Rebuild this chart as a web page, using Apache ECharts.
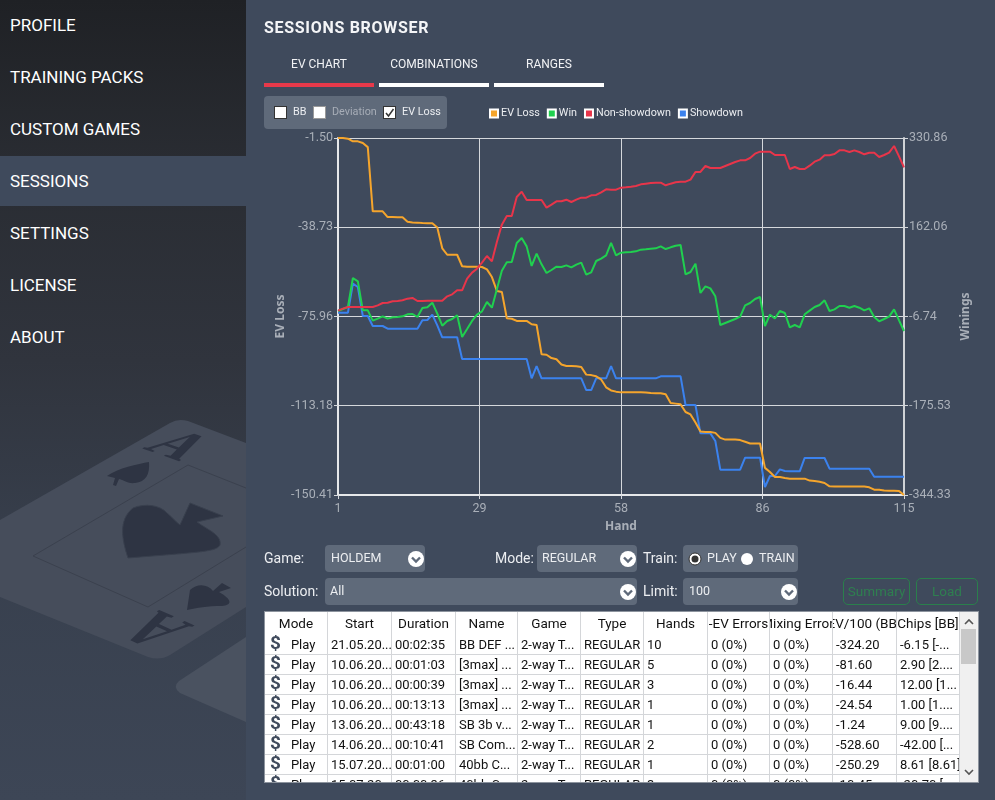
<!DOCTYPE html>
<html>
<head>
<meta charset="utf-8">
<title>Sessions browser</title>
<script src="https://cdn.jsdelivr.net/npm/echarts@6/dist/echarts.min.js"></script>
<style>
html,body{margin:0;padding:0;width:995px;height:800px;overflow:hidden;background:#3f4a5c;font-family:Roboto,"Noto Sans",sans-serif;color:#fff}
#chart{position:absolute;left:0;top:0;width:995px;height:800px}
.abs{position:absolute;white-space:nowrap}
#side{position:absolute;left:0;top:0;width:246px;height:800px;overflow:hidden}
.nav{position:absolute;left:10px;font-size:17px;line-height:24px;color:#fff}
.active{position:absolute;left:0;top:156px;width:246px;height:50px;background:#3f4a5c}
.tab{position:absolute;top:55px;width:110px;text-align:center;font-size:12px;line-height:18px;color:#f2f3f5}
.line{position:absolute;top:83px;width:110px;height:4px;background:#fff}
.panel{position:absolute;background:#5f6a7a;border-radius:4px}
.lab{position:absolute;font-size:14px;line-height:18px;color:#eceef1}
.val{position:absolute;font-size:12.5px;line-height:18px;color:#eceef1}
.small{font-size:10.8px}
.box{position:absolute;width:11px;height:11px;background:#fff;border:1px solid #333}
.chev{position:absolute;width:16px;height:16px}
.btn{position:absolute;top:578px;height:25px;border:1px solid #2a7f4c;border-radius:5px;color:#2f7f50;font-size:13.5px;line-height:25px;text-align:center}
#table{position:absolute;left:264px;top:611px;width:713px;height:170px;background:#fff;border:1px solid #8d949e;overflow:hidden;color:#111;font-size:13px}
.cell{position:absolute;height:20px;line-height:19px;overflow:hidden;white-space:nowrap;box-sizing:border-box;border-right:1px solid #d4d6d9;border-bottom:1px solid #d4d6d9;padding-left:3px}
.head{display:flex;justify-content:center;padding-left:0;height:23px;line-height:23px;border-bottom:none;font-size:13.5px}
.head span{flex:none}
</style>
</head>
<body>
<div id="side">
  <svg width="246" height="800" style="position:absolute;left:0;top:0">
    <defs>
      <linearGradient id="bg" x1="0" y1="0" x2="0" y2="1">
        <stop offset="0" stop-color="#1f2125"/>
        <stop offset="0.2" stop-color="#292c32"/>
        <stop offset="0.45" stop-color="#30343d"/>
        <stop offset="0.7" stop-color="#38404e"/>
        <stop offset="1" stop-color="#3d4656"/>
      </linearGradient>
    </defs>
    <rect width="246" height="800" fill="url(#bg)"/>
    <path d="M0 520 L170 423 Q178 418 188 421 L246 443 L246 607 L170 655 Q160 661 148 657 L0 597 Z" fill="#464d5b"/>
    <path d="M246 637 L179 681 Q172 687 180 693 L246 722 Z" fill="#4a5260"/>
    <path d="M33 556 L188 465 L246 488 M33 556 L148 607 L246 547" fill="none" stroke="#3b414e" stroke-width="1"/>
    <path d="M128 558 C122 540 118 520 133 508 C145 503 160 505 167 513 C172 517 176 522 180 525 L190 503 L223 516 L197 522 C208 530 222 535 220 545 C216 552 200 552 128 558 Z" fill="#2e3443" stroke="#39404e" stroke-width="1"/>
    <path d="M107 476 C118 468 138 464 149 462 C150 474 146 482 135 483 C127 484 122 479 119 479 L116 486 L113 485 L115 478 Z" fill="#2e3443"/>
    <path d="M187 610 L190 590 C197 583 208 584 213 591 L222 583 L231 588 L219 592 C233 600 232 605 222 606 C207 606 197 608 187 610 Z" fill="#2e3443"/>
    <text transform="matrix(1.74 0.6 -1.88 1 141.7 448.3)" font-family="Liberation Serif" font-size="30" font-weight="bold" fill="#2e3443">A</text>
    <text transform="matrix(-1.67 -0.74 2.17 -1.22 195 625.7)" font-family="Liberation Serif" font-size="30" font-weight="bold" fill="#2e3443">A</text>
  </svg>
  <div class="active"></div>
  <div class="nav" style="top:13px">PROFILE</div>
  <div class="nav" style="top:65px">TRAINING PACKS</div>
  <div class="nav" style="top:117px">CUSTOM GAMES</div>
  <div class="nav" style="top:169px">SESSIONS</div>
  <div class="nav" style="top:221px">SETTINGS</div>
  <div class="nav" style="top:273px">LICENSE</div>
  <div class="nav" style="top:325px">ABOUT</div>
</div>

<div id="chart"></div>

<div class="abs" style="left:264px;top:17px;font-size:16px;line-height:22px;font-weight:bold;letter-spacing:.7px;color:#f4f5f7">SESSIONS BROWSER</div>
<div class="tab" style="left:264px">EV CHART</div><div class="line" style="left:264px;background:#e8394a"></div>
<div class="tab" style="left:379px">COMBINATIONS</div><div class="line" style="left:379px"></div>
<div class="tab" style="left:494px">RANGES</div><div class="line" style="left:494px"></div>

<div class="panel" style="left:264px;top:96px;width:183px;height:33px"></div>
<div class="box" style="left:274px;top:106px"></div>
<div class="val small" style="left:293px;top:103px">BB</div>
<div class="box" style="left:313px;top:106px;border-color:#999"></div>
<div class="val small" style="left:332px;top:103px;color:#a7adb7">Deviation</div>
<div class="box" style="left:383px;top:106px"></div>
<svg class="abs" style="left:383px;top:106px" width="13" height="13"><path d="M3 7 L5.5 10 L10.5 3" fill="none" stroke="#333" stroke-width="1.5"/></svg>
<div class="val small" style="left:402px;top:103px">EV Loss</div>

<div class="lab" style="left:264px;top:549px">Game:</div>
<div class="panel" style="left:325px;top:545px;width:100px;height:27px"></div>
<div class="val" style="left:331px;top:549px">HOLDEM</div>
<div class="lab" style="left:495px;top:549px">Mode:</div>
<div class="panel" style="left:537px;top:545px;width:100px;height:27px"></div>
<div class="val" style="left:542px;top:549px">REGULAR</div>
<div class="lab" style="left:643px;top:549px">Train:</div>
<div class="panel" style="left:683px;top:545px;width:115px;height:27px"></div>
<svg class="abs" style="left:687px;top:551px" width="16" height="16"><circle cx="8" cy="8" r="6" fill="#fff" stroke="#333" stroke-width="1"/><circle cx="8" cy="8" r="3.5" fill="#333"/></svg>
<div class="val" style="left:707px;top:549px">PLAY</div>
<svg class="abs" style="left:739px;top:551px" width="16" height="16"><circle cx="8" cy="8" r="6" fill="#fff"/></svg>
<div class="val" style="left:759px;top:549px">TRAIN</div>

<div class="lab" style="left:264px;top:582px">Solution:</div>
<div class="panel" style="left:325px;top:578px;width:312px;height:27px"></div>
<div class="val" style="left:330px;top:582px">All</div>
<div class="lab" style="left:643px;top:582px">Limit:</div>
<div class="panel" style="left:683px;top:578px;width:115px;height:27px"></div>
<div class="val" style="left:689px;top:582px">100</div>
<div class="btn" style="left:843px;width:65px">Summary</div>
<div class="btn" style="left:916px;width:60px">Load</div>

<div id="table"></div>

<script>
// chart values
var handTicks = [1, 29.5, 58, 86.5, 115];
var lossTicks = [-1.50, -38.73, -75.96, -113.18, -150.41];
var winTicks = [330.86, 162.06, -6.74, -175.53, -344.33];

var evLoss = [
  -1.50,-1.50,-1.8,-2.9,-2.9,-3.6,-5.3,-32.1,-32.1,-32.1,
  -34.5,-34.5,-34.6,-34.6,-36.4,-36.7,-36.8,-37.0,-37.1,-37.1,
  -38.8,-47.5,-50.2,-50.2,-50.2,-55.0,-55.2,-55.2,-55.2,-55.3,
  -56.3,-59.5,-65.3,-65.7,-76.7,-76.9,-77.8,-77.8,-77.8,-79.2,
  -79.5,-91.7,-91.9,-93.3,-93.8,-96.0,-96.6,-96.6,-96.7,-97.0,
  -100.2,-100.4,-100.9,-102.2,-105.5,-106.8,-107.3,-107.6,-107.5,-107.6,
  -107.6,-107.6,-107.7,-107.9,-108.0,-108.0,-108.4,-112.0,-112.3,-112.6,
  -115.8,-116.8,-120.2,-123.9,-124.1,-124.1,-124.5,-126.6,-127.3,-127.3,
  -127.3,-127.5,-128.2,-128.9,-128.9,-128.9,-139.1,-140.8,-142.9,-142.9,
  -143.3,-143.6,-143.6,-143.6,-143.6,-144.4,-144.6,-144.9,-145.4,-146.8,
  -146.9,-146.9,-146.9,-146.9,-146.9,-146.9,-146.9,-147.2,-148.2,-148.2,
  -148.5,-148.6,-148.6,-148.7,-150.41
];
var win = [
  3.7,7.5,11.2,66.1,59.8,4.9,4.9,-14.6,-10.8,-6.4,
  -10.8,-8.3,-7.7,-6.4,-2.6,-2.0,-7.7,9.3,10.6,19.4,
  -1.4,-24.1,-15.2,-11.5,-4.5,-45.5,-30.4,-15.2,-3.3,3.0,
  20.7,9.9,44.6,79.9,95.7,96.3,132.3,141.7,125.9,88.8,
  112.1,91.9,75.5,81.2,87.5,86.9,90.0,86.2,91.3,95.1,
  72.4,76.8,98.2,102.6,108.9,132.3,108.9,114.0,114.6,115.2,
  116.5,119.7,120.3,121.6,122.2,125.9,120.9,124.1,127.2,128.5,
  73.0,77.4,93.2,37.7,50.3,46.5,31.4,-22.8,-19.0,-15.2,
  -11.5,-7.0,14.4,18.8,26.4,30.1,-24.7,-3.3,-10.2,3.7,
  -0.1,-27.2,-22.8,-27.2,-2.6,4.3,11.2,15.0,23.9,3.7,
  6.8,13.1,13.1,9.9,13.1,9.9,4.9,8.7,-7.7,-15.9,
  -11.5,-7.0,6.8,-14.0,-34.2
];
var nonShowdown = [
  4.3,8.1,11.2,11.2,11.2,11.2,11.2,11.2,14.4,18.8,
  19.4,22.0,22.6,23.9,27.0,28.3,22.6,22.6,23.2,23.2,
  23.2,23.2,31.4,35.2,42.8,42.8,64.8,76.2,83.7,95.1,
  107.7,97.6,134.2,167.0,183.3,183.3,219.3,229.4,213.6,213.6,
  213.6,213.6,199.1,204.8,211.1,211.1,214.2,209.8,214.2,218.0,
  218.0,222.4,223.1,228.1,233.8,233.2,233.2,236.9,237.6,238.8,
  240.1,243.2,244.5,245.8,246.4,246.4,241.4,244.5,247.0,248.3,
  248.3,252.1,266.6,266.6,277.9,274.1,274.1,274.1,277.9,281.7,
  285.5,288.6,288.6,293.0,301.2,305.0,305.0,305.0,298.7,298.7,
  298.7,272.2,276.0,272.2,272.2,278.5,286.1,289.9,298.1,298.1,
  300.6,307.5,307.5,304.4,307.5,304.4,300.0,303.1,303.1,294.9,
  298.7,303.1,315.7,296.2,275.4
];
var showdown = [
  0.5,0.5,0.5,55.4,49.1,-5.8,-5.8,-24.7,-24.7,-24.7,
  -29.7,-29.7,-29.7,-29.7,-29.7,-29.7,-29.7,-14.0,-13.4,-3.3,
  -23.4,-46.1,-46.1,-46.1,-46.1,-87.1,-87.1,-87.1,-87.1,-87.1,
  -87.1,-87.1,-87.1,-87.1,-87.1,-87.1,-87.1,-87.1,-87.1,-123.7,
  -100.4,-123.7,-123.7,-123.7,-123.7,-123.7,-123.7,-123.7,-123.7,-123.7,
  -145.8,-145.8,-123.7,-123.7,-123.7,-100.4,-123.7,-123.7,-123.7,-123.7,
  -123.7,-123.7,-123.7,-123.7,-123.7,-119.9,-119.9,-119.9,-119.9,-119.9,
  -174.1,-174.1,-174.1,-227.7,-227.7,-227.7,-242.2,-296.4,-296.4,-296.4,
  -296.4,-296.4,-273.7,-273.7,-273.7,-273.7,-329.2,-308.4,-308.4,-295.8,
  -298.9,-299.6,-299.6,-299.6,-274.3,-274.3,-274.3,-274.3,-274.3,-294.5,
  -294.5,-294.5,-294.5,-294.5,-294.5,-294.5,-294.5,-294.5,-309.7,-309.7,
  -309.7,-309.7,-309.7,-309.7,-309.7
];

// table contents
var colNames = ['Mode','Start','Duration','Name','Game','Type','Hands','-EV Errors','Mixing Errors','EV/100 (BB)','Chips [BB]'];
var colEdges = [0,63,127,191,253,316,379,443,505,568,632,695];
var rowStart = ['21.05.20...','10.06.20...','10.06.20...','10.06.20...','13.06.20...','14.06.20...','15.07.20...','15.07.20...'];
var rowDuration = ['00:02:35','00:01:03','00:00:39','00:13:13','00:43:18','00:10:41','00:01:00','00:00:36'];
var rowName = ['BB DEF ...','[3max] ...','[3max] ...','[3max] ...','SB 3b v...','SB Com...','40bb C...','40bb C...'];
var rowHands = ['10','5','3','1','1','2','1','3'];
var rowEv = ['-324.20','-81.60','-16.44','-24.54','-1.24','-528.60','-250.29','-10.45'];
var rowChips = ['-6.15 [-...','2.90 [2....','12.00 [1...','1.00 [1....','9.00 [9....','-42.00 [...','8.61 [8.61]','-20.70 [...'];

function line(name, data, color, axisIndex){
  var pts = [];
  for (var i = 0; i < data.length; i++) {
    pts.push([i + 1, data[i]]);
  }
  return {
    name: name, type: 'line', yAxisIndex: axisIndex, data: pts,
    showSymbol: false, symbol: 'none', smooth: false,
    itemStyle: {color: color, borderColor: '#fff', borderWidth: 1},
    lineStyle: {color: color, width: 2}
  };
}

var labelColor = '#a9afb8';
var nameStyle = {color: labelColor, fontSize: 12, fontWeight: 'bold', fontFamily: 'Noto Sans'};
var chart = echarts.init(document.getElementById('chart'), null, {renderer: 'canvas'});
chart.setOption({
  animation: false,
  textStyle: {fontFamily: 'Roboto'},
  legend: {
    left: 484, top: 103, itemWidth: 8, itemHeight: 8, itemGap: 7,
    icon: 'rect',
    textStyle: {color: '#eceef1', fontSize: 10.8, padding: [0, 0, 0, -2]},
    data: ['EV Loss', 'Win', 'Non-showdown', 'Showdown']
  },
  grid: {left: 338, top: 138, right: 91, bottom: 305, containLabel: false},
  xAxis: {
    type: 'value', min: 1, max: 115,
    name: 'Hand', nameLocation: 'middle', nameGap: 26,
    nameTextStyle: nameStyle,
    axisLine: {onZero: false, lineStyle: {color: '#e6e8ea', width: 2}},
    axisTick: {show: true, length: 4, customValues: handTicks, lineStyle: {color: '#d5d8dc', width: 1}},
    axisLabel: {color: labelColor, fontSize: 12.5, margin: 7, customValues: handTicks,
      formatter: function(v){ return String(Math.floor(v)); }},
    splitLine: {show: true, lineStyle: {color: '#d5d8dc', width: 1}}
  },
  yAxis: [{
    type: 'value', position: 'left', min: -150.41, max: -1.50,
    name: 'EV Loss', nameLocation: 'middle', nameGap: 51, nameRotate: 90, nameMoveOverlap: false,
    nameTextStyle: nameStyle,
    axisLine: {show: true, onZero: false, lineStyle: {color: '#e6e8ea', width: 2}},
    axisTick: {show: true, length: 4, customValues: lossTicks, lineStyle: {color: '#d5d8dc', width: 1}},
    axisLabel: {color: labelColor, fontSize: 12.5, margin: 5, padding: [3, 0, 0, 0], customValues: lossTicks,
      formatter: function(v){ return v.toFixed(2); }},
    splitLine: {show: true, lineStyle: {color: '#d5d8dc', width: 1}}
  }, {
    type: 'value', position: 'right', min: -344.33, max: 330.86,
    name: 'Winings', nameLocation: 'middle', nameGap: 56, nameRotate: 90, nameMoveOverlap: false,
    nameTextStyle: nameStyle,
    axisLine: {show: true, onZero: false, lineStyle: {color: '#cfd2d6', width: 2}},
    axisTick: {show: true, length: 4, customValues: winTicks, lineStyle: {color: '#d5d8dc', width: 1}},
    axisLabel: {color: labelColor, fontSize: 12.5, margin: 5, padding: [3, 0, 0, 0], customValues: winTicks,
      formatter: function(v){ return v.toFixed(2); }},
    splitLine: {show: false}
  }],
  // drawn back to front as in the picture, legend order is set above
  series: [
    line('Showdown', showdown, '#3b82ee', 1),
    line('EV Loss', evLoss, '#f5a52c', 0),
    line('Win', win, '#20d04f', 1),
    line('Non-showdown', nonShowdown, '#e8354a', 1)
  ]
});

// select chevrons
var chevrons = [[408,551],[620,551],[620,584],[781,584]];
chevrons.forEach(function(c){
  var s = document.createElementNS('http://www.w3.org/2000/svg','svg');
  s.setAttribute('class','chev');
  s.setAttribute('width',16); s.setAttribute('height',16);
  s.style.left = c[0]+'px'; s.style.top = c[1]+'px';
  s.innerHTML = '<circle cx="8" cy="8" r="8" fill="#fff"/><path d="M4 6.5 L8 10.5 L12 6.5" fill="none" stroke="#5f6a7a" stroke-width="2.4"/>';
  document.body.appendChild(s);
});

// session table
var t = document.getElementById('table');
function cell(col, top, text, cls){
  var d = document.createElement('div');
  d.className = 'cell' + (cls ? ' ' + cls : '');
  d.style.left = colEdges[col] + 'px';
  d.style.width = (colEdges[col+1] - colEdges[col]) + 'px';
  d.style.top = top + 'px';
  var s = document.createElement('span');
  s.textContent = text;
  d.appendChild(s);
  t.appendChild(d);
  return d;
}
colNames.forEach(function(n, c){ cell(c, 0, n, 'head'); });
rowStart.forEach(function(s, r){
  var top = 23 + r * 20;
  var mode = cell(0, top, '', '');
  mode.innerHTML = '<b style="font-size:19px;line-height:0;color:#3f4a5c;margin:0 10px 0 2px">$</b>Play';
  var vals = [s, rowDuration[r], rowName[r], '2-way T...', 'REGULAR', rowHands[r], '0 (0%)', '0 (0%)', rowEv[r], rowChips[r]];
  vals.forEach(function(v, i){ cell(i + 1, top, v); });
});
// scrollbar
var bar = document.createElement('div');
bar.style.cssText = 'position:absolute;left:695px;top:0;width:18px;height:170px;background:#f0f0f0';
bar.innerHTML = '<div style="position:absolute;left:1px;top:17px;width:15px;height:35px;background:#c8c8c8"></div>' +
  '<svg width="18" height="170" style="position:absolute;left:0;top:0"><path d="M5 12 L9 8 L13 12 M5 158 L9 162 L13 158" fill="none" stroke="#555" stroke-width="1.6"/></svg>';
t.appendChild(bar);
</script>
</body>
</html>
